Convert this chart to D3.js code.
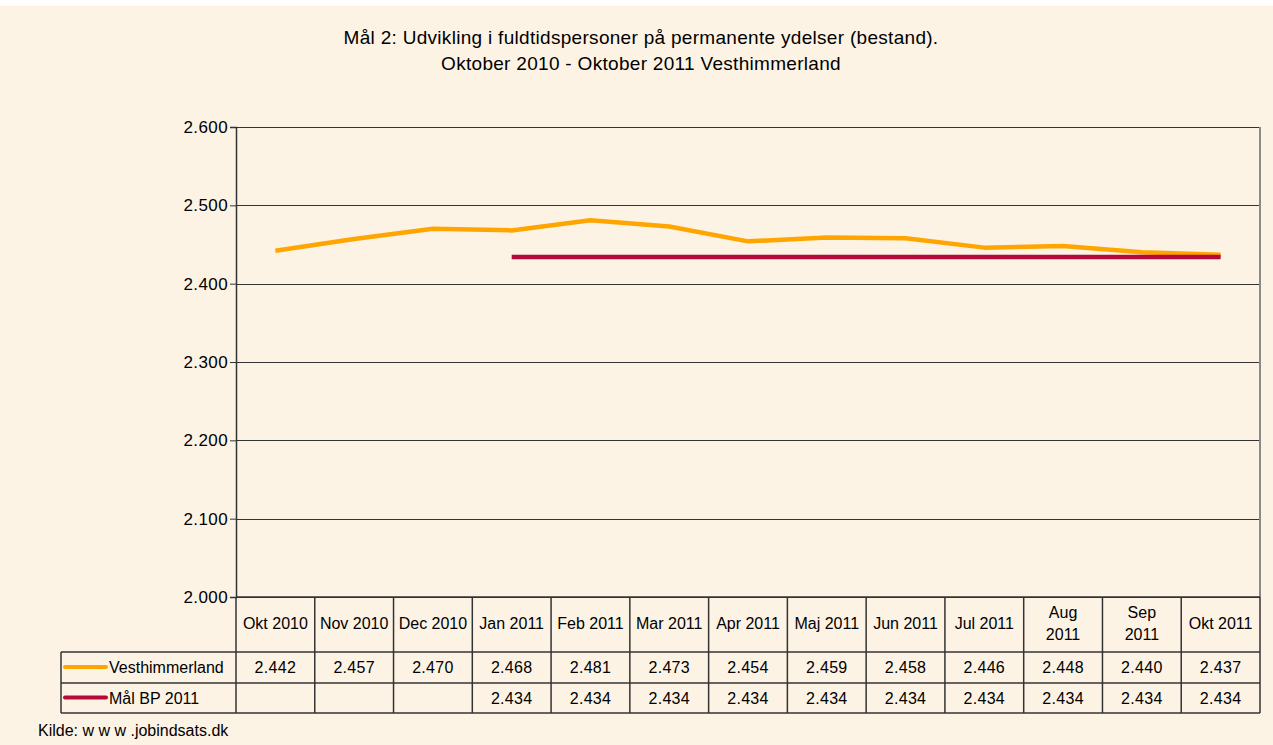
<!DOCTYPE html>
<html><head><meta charset="utf-8">
<script src="https://cdn.jsdelivr.net/npm/d3@7"></script>
<style>
body{margin:0;background:#fff;}
svg{display:block;font-family:"Liberation Sans",Arial,sans-serif;}
</style></head><body>
<svg id="c" width="1273" height="745"></svg>
<script>
const categories=["Okt 2010","Nov 2010","Dec 2010","Jan 2011","Feb 2011","Mar 2011","Apr 2011","Maj 2011","Jun 2011","Jul 2011","Aug 2011","Sep 2011","Okt 2011"];
const categoryLines=[["Okt 2010"],["Nov 2010"],["Dec 2010"],["Jan 2011"],["Feb 2011"],["Mar 2011"],["Apr 2011"],["Maj 2011"],["Jun 2011"],["Jul 2011"],["Aug","2011"],["Sep","2011"],["Okt 2011"]];
const vesthimmerland=[2442,2457,2470,2468,2481,2473,2454,2459,2458,2446,2448,2440,2437];
const maalBP=[null,null,null,2434,2434,2434,2434,2434,2434,2434,2434,2434,2434];
const yTicks=[2000,2100,2200,2300,2400,2500,2600];
const seriesNames=["Vesthimmerland","Mål BP 2011"];
const titleLines=["Mål 2: Udvikling i fuldtidspersoner på permanente ydelser (bestand).","Oktober 2010 - Oktober 2011 Vesthimmerland"];
const source="Kilde: w w w .jobindsats.dk";

const colors=["#FFA500","#B5093A"];
const svg=d3.select("#c");
svg.append("rect").attr("x",0).attr("y",6).attr("width",1273).attr("height",739).attr("fill","#FDF3E5");

const L=236,R=1260,T=127,B=597;
const x=d3.scaleBand().domain(categories).range([L,R]).padding(0);
const y=d3.scaleLinear().domain([2000,2600]).range([B,T]);
const fmt=v=>d3.format(".3f")(v/1000);

// title
svg.append("g").selectAll("text").data(titleLines).join("text")
 .attr("x",641).attr("y",(d,i)=>44+i*26).attr("text-anchor","middle")
 .attr("font-size",19).attr("letter-spacing",0.3).attr("fill","#000").text(d=>d);

// gridlines
svg.append("g").selectAll("line").data(yTicks).join("line")
 .attr("x1",L).attr("x2",R).attr("y1",d=>Math.round(y(d))+0.5).attr("y2",d=>Math.round(y(d))+0.5)
 .attr("stroke","#333").attr("stroke-width",1.2);
// right border
svg.append("line").attr("x1",R).attr("x2",R).attr("y1",T).attr("y2",B).attr("stroke","#8a8a8a").attr("stroke-width",2);
// y axis
const yAxis=d3.axisLeft(y).tickValues(yTicks).tickSize(6).tickFormat(fmt);
const ga=svg.append("g").attr("transform",`translate(${L},0)`).call(yAxis);
ga.select(".domain").attr("stroke","#333").attr("stroke-width",1.5);
ga.selectAll(".tick line").attr("stroke","#333");
ga.selectAll(".tick text").attr("font-size",17).attr("letter-spacing",0.4).attr("fill","#000").attr("font-family","Liberation Sans, Arial").attr("x",-8);

// table
const rowY=[B,652,683,713];
const tl=61;
const tbl=svg.append("g");
const lc="#333";
tbl.append("line").attr("x1",L).attr("x2",R).attr("y1",B).attr("y2",B).attr("stroke",lc).attr("stroke-width",1.5);
[rowY[1],rowY[2],rowY[3]].forEach(yy=>{
 tbl.append("line").attr("x1",tl).attr("x2",R).attr("y1",yy).attr("y2",yy).attr("stroke",lc).attr("stroke-width",1.5);
});
const xs=categories.map(c=>x(c)).concat([R]);
tbl.selectAll("line.v").data(xs).join("line").attr("class","v")
 .attr("x1",d=>d).attr("x2",d=>d).attr("y1",B).attr("y2",rowY[3]).attr("stroke",lc).attr("stroke-width",1.5);
tbl.append("line").attr("x1",tl).attr("x2",tl).attr("y1",rowY[1]).attr("y2",rowY[3]).attr("stroke",lc).attr("stroke-width",1.5);

const hdr=tbl.selectAll("g.h").data(categories).join("g").attr("class","h");
hdr.each(function(c,i){
 const lines=categoryLines[i];
 const cx=x(c)+x.bandwidth()/2;
 const cy=(rowY[0]+rowY[1])/2;
 d3.select(this).selectAll("text").data(lines).join("text")
  .attr("x",cx).attr("y",(d,j)=>cy+4+(j-(lines.length-1)/2)*22)
  .attr("text-anchor","middle").attr("font-size",16).attr("fill","#000").text(d=>d);
});
[vesthimmerland,maalBP].forEach((arr,k)=>{
 const cy=(rowY[k+1]+rowY[k+2])/2+5.5;
 tbl.append("g").selectAll("text").data(arr.map((v,i)=>({v,c:categories[i]})).filter(d=>d.v!=null)).join("text")
  .attr("x",d=>x(d.c)+x.bandwidth()/2).attr("y",cy).attr("text-anchor","middle")
  .attr("font-size",16).attr("letter-spacing",0.3).attr("fill","#000").text(d=>fmt(d.v));
 tbl.append("line").attr("x1",65).attr("x2",106).attr("y1",cy-6).attr("y2",cy-6)
  .attr("stroke",colors[k]).attr("stroke-width",4).attr("stroke-linecap","round");
 tbl.append("text").attr("x",109).attr("y",cy).attr("font-size",16).attr("fill","#000").text(seriesNames[k]);
});

const line=d3.line().defined(d=>d.v!=null).x(d=>x(d.c)+x.bandwidth()/2).y(d=>y(d.v));
[vesthimmerland,maalBP].forEach((arr,k)=>{
 svg.append("path").datum(arr.map((v,i)=>({v,c:categories[i]})))
  .attr("d",line).attr("fill","none").attr("stroke",colors[k]).attr("stroke-width",4.5)
  .attr("stroke-linejoin","round");
});
svg.append("text").attr("x",38).attr("y",736).attr("font-size",16).attr("fill","#000").text(source);
</script></body></html>
